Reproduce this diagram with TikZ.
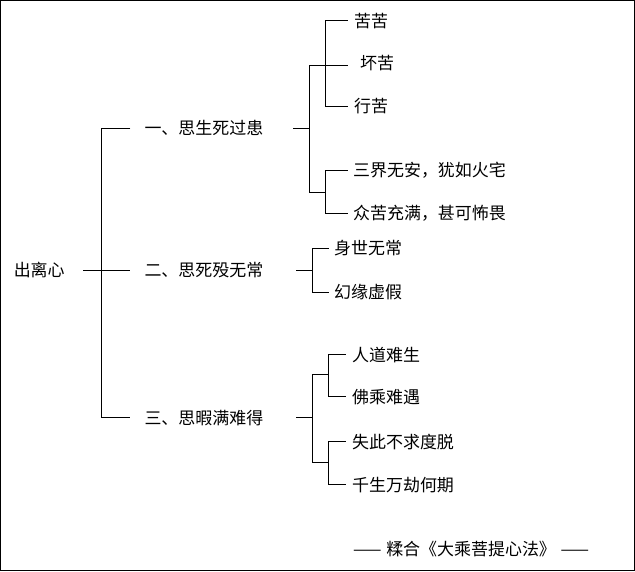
\documentclass[tikz,border=0pt]{standalone}
\usepackage{fontspec}
\setmainfont{Noto Sans CJK SC}
\begin{document}
\begin{tikzpicture}[x=1pt,y=-1pt,
    item/.style={anchor=west, inner sep=1pt, font=\fontsize{17}{19}\selectfont},
    brk/.style={line width=1pt}]
    \draw[line width=1.2pt] (0,0) rectangle (635,571);

    \node[item] (root) at (12,270) {出离心};
    \node[item] (s1) at (143,128) {一、思生死过患};
    \node[item] (s2) at (143,270) {二、思死殁无常};
    \node[item] (s3) at (143,418) {三、思暇满难得};

    \node[item] (a1) at (353,20) {苦苦};
    \node[item] (a2) at (359,63) {坏苦};
    \node[item] (a3) at (353,106) {行苦};
    \node[item] (a4) at (352,170) {三界无安，犹如火宅};
    \node[item] (a5) at (352,213) {众苦充满，甚可怖畏};
    \node[item] (b1) at (333,248) {身世无常};
    \node[item] (b2) at (333,292) {幻缘虚假};
    \node[item] (c1) at (351,355) {人道难生};
    \node[item] (c2) at (351,397) {佛乘难遇};
    \node[item] (c3) at (351,442) {失此不求度脱};
    \node[item] (c4) at (351,485) {千生万劫何期};

    \node[item] (src) at (352,549) {——\;糅合《大乘菩提心法》\;——};

    % level one
    \draw[brk] (83,270) -- (101,270);
    \draw[brk] (130,128) -- (101,128) -- (101,418) -- (130,418);
    \draw[brk] (101,270) -- (130,270);

    % first branch
    \draw[brk] (293,128) -- (309,128);
    \draw[brk] (309,65) -- (309,192);
    \draw[brk] (309,65) -- (348,65);
    \draw[brk] (348,20) -- (326,20) -- (326,106) -- (348,106);
    \draw[brk] (309,192) -- (326,192);
    \draw[brk] (348,170) -- (326,170) -- (326,213) -- (348,213);

    % second branch
    \draw[brk] (296,270) -- (312,270);
    \draw[brk] (329,248) -- (312,248) -- (312,292) -- (329,292);

    % third branch
    \draw[brk] (296,418) -- (312,418);
    \draw[brk] (312,375) -- (312,463);
    \draw[brk] (312,375) -- (329,375);
    \draw[brk] (312,463) -- (329,463);
    \draw[brk] (346,355) -- (329,355) -- (329,397) -- (346,397);
    \draw[brk] (346,442) -- (329,442) -- (329,485) -- (346,485);
\end{tikzpicture}
\end{document}
